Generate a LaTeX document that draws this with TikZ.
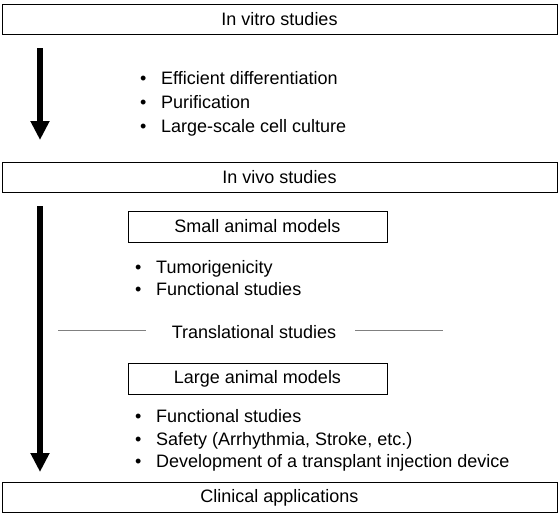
\documentclass[tikz,border=0pt]{standalone}
\usepackage{fontspec}
\setmainfont{Liberation Sans}
\usetikzlibrary{arrows.meta}

\newcommand\bitem{\makebox[21pt][l]{\textbullet}}

\begin{document}
\begin{tikzpicture}[x=1pt,y=-1pt,
  widebox/.style={draw,line width=0.9pt,minimum width=555pt,minimum height=30pt,inner sep=0pt,font=\fontsize{18}{21}\selectfont},
  modelbox/.style={draw,line width=0.9pt,minimum width=259pt,minimum height=31pt,inner sep=0pt,font=\fontsize{18}{21}\selectfont},
  items/.style={anchor=west,align=left,inner sep=0pt,font=\fontsize{18}{24}\selectfont},
  flow/.style={line width=6pt,-{Triangle[width=18pt,length=19pt]}},
  rule/.style={gray,line width=0.7pt}]
  \useasboundingbox (0,0) rectangle (560,523);
  % main stages
  \node[widebox] (vitro) at (279.5,19.5) {In vitro studies};
  \node[widebox] (vivo) at (279.5,177.5) {In vivo studies};
  \node[widebox] (clinic) at (279.5,497.5) {Clinical applications};
  % in vitro
  \coordinate (a1top) at (40,48);
  \coordinate (a1tip) at (40,140);
  \draw[flow] (a1top) -- (a1tip);
  \node[items] (vitrolist) at (140,104) {\bitem Efficient differentiation\\ \bitem Purification\\ \bitem Large-scale cell culture};
  % in vivo
  \coordinate (a2top) at (40,206);
  \coordinate (a2tip) at (40,472);
  \draw[flow] (a2top) -- (a2tip);
  \node[modelbox] (small) at (257.5,226.5) {Small animal models};
  \node[items,font=\fontsize{18}{22}\selectfont] (smalllist) at (135,278.5) {\bitem Tumorigenicity\\ \bitem Functional studies};
  \node[inner sep=0pt,font=\fontsize{18}{21}\selectfont] (trans) at (254,332.5) {Translational studies};
  \coordinate (tl) at (58,330);
  \coordinate (tr) at (355,330);
  \draw[rule] (tl) -- ++(88,0);
  \draw[rule] (tr) -- ++(88,0);
  \node[modelbox] (large) at (257.5,378.5) {Large animal models};
  \node[items,font=\fontsize{18}{22.5}\selectfont] (largelist) at (135,440.5) {\bitem Functional studies\\ \bitem Safety (Arrhythmia, Stroke, etc.)\\ \bitem Development of a transplant injection device};
\end{tikzpicture}
\end{document}
